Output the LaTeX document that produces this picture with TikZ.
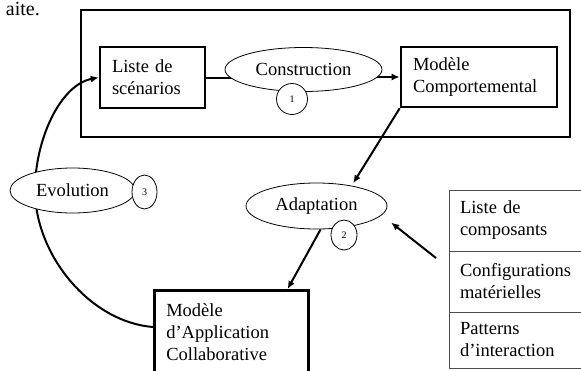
\documentclass[tikz,border=0pt]{standalone}
\usepackage{fontspec}
\setmainfont{Liberation Serif}
\usetikzlibrary{shapes.geometric, positioning, arrows.meta, backgrounds}

\begin{document}
\begin{tikzpicture}[x=1pt, y=-1pt,
    box/.style={draw, line width=2.6pt, align=left, inner xsep=12pt, font=\fontsize{18.5}{22}\selectfont},
    proc/.style={draw, ellipse, fill=white, line width=0.8pt, inner sep=0pt, font=\fontsize{18.5}{22}\selectfont},
    num/.style={draw, ellipse, fill=white, line width=0.8pt, inner sep=0pt, font=\fontsize{10}{12}\selectfont},
    cell/.style={draw=black!70, line width=1pt, anchor=north west, align=left, text width=130pt, inner xsep=11pt, outer sep=0pt, font=\fontsize{18.5}{22}\selectfont},
    flow/.style={line width=2pt, -{Latex[length=8pt, width=7pt]}}
]
    \useasboundingbox (0,0) rectangle (581,370);
    \clip (0,0) rectangle (581,370);

    % end of the sentence above the figure
    \node[anchor=base east, inner sep=0pt, font=\fontsize{20}{24}\selectfont] (prev) at (40,15.5) {aite.};

    % frame round the first step
    \draw[line width=2.2pt] (81,10) rectangle (570,137);

    % models
    \node[box, minimum width=105pt, minimum height=61pt, text width=81pt] (liste) at (152.5,77.5) {Liste de\\scénarios};
    \node[box, minimum width=156pt, minimum height=60pt, text width=132pt] (modele) at (479,77) {Modèle\\Comportemental};
    \node[box, anchor=north west, text width=130pt, inner ysep=13.4pt] (collab) at (153,289) {Modèle\\d’Application\\Collaborative};

    % steps
    \node[proc, minimum width=157pt, minimum height=44pt] (constr) at (303.5,69.5) {Construction};
    \node[proc, minimum width=141pt, minimum height=46pt] (adapt) at (316.5,206) {Adaptation};
    \node[proc, minimum width=125pt, minimum height=45pt] (evol) at (72.5,190.5) {Evolution};
    \node[num, minimum width=31pt, minimum height=31pt] (n1) at (292,99) {1};
    \node[num, minimum width=26pt, minimum height=30pt] (n2) at (344,235) {2};
    \node[num, minimum width=25pt, minimum height=34pt] (n3) at (144.5,192) {3};

    % resources
    \node[cell, minimum height=61pt] (comp) at (449,190) {Liste de\\composants};
    \node[cell, minimum height=61pt, below=0pt of comp] (conf) {Configurations\\matérielles};
    \node[cell, minimum height=56pt, below=0pt of conf] (patt) {Patterns\\d’interaction};

    % connectors
    \begin{scope}[on background layer]
        \draw[line width=2pt] (liste.east) -- (liste.east -| constr.center);
        \draw[flow] (constr.center |- modele.west) -- (modele.west);
        \draw[flow, shorten >=3pt] (modele.south west) -- (adapt.30);
        \draw[flow] (adapt.-80) -- ([xshift=-22pt]collab.north east);
        \coordinate (tabin) at (436,258);
        \draw[flow, shorten >=12pt] (tabin) -- (adapt.-8);
        \draw[flow] ([yshift=-38pt]collab.north west) .. controls (90,322) and (35,255) .. (35,190)
            .. controls (35,140) and (60,85) .. (liste.west);
    \end{scope}
\end{tikzpicture}
\end{document}
